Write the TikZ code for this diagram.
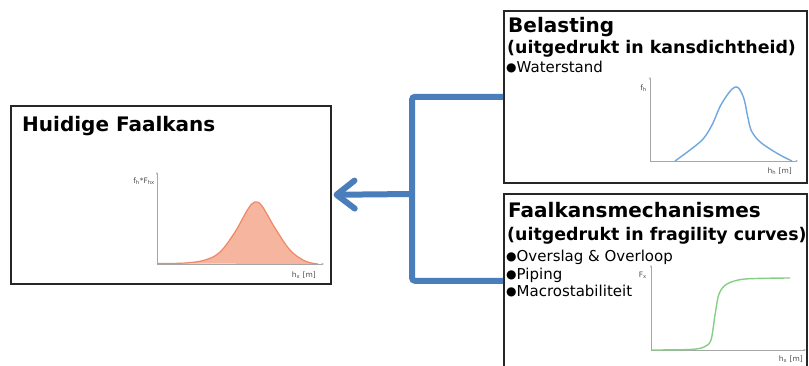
\documentclass[tikz,border=0pt]{standalone}
\usepackage{fontspec}
\setmainfont{DejaVu Sans}
\usetikzlibrary{arrows.meta}
\definecolor{arrowblue}{HTML}{4A7EBB}
\definecolor{curveblue}{HTML}{6FA8DC}
\definecolor{curvegreen}{HTML}{86CF86}
\definecolor{salmonline}{HTML}{EE8866}
\definecolor{salmonfill}{HTML}{F6B59E}
\definecolor{boxline}{HTML}{262626}
\definecolor{axisgray}{HTML}{A6A6A6}
\newcommand{\bul}{{\fontsize{12}{12}\selectfont\raisebox{1pt}{●}}}
\tikzset{
  box/.style={draw=boxline, line width=1.6pt, rectangle, inner sep=0pt},
  title/.style={font=\bfseries\fontsize{20}{22}\selectfont, inner sep=0pt, anchor=base west},
  subtitle/.style={font=\bfseries\fontsize{17.4}{20}\selectfont, inner sep=0pt, anchor=base west},
  bullet/.style={font=\fontsize{15}{17}\selectfont, inner sep=0pt, anchor=base west},
  axis/.style={draw=axisgray, line width=0.8pt, -{Stealth[length=2.5pt,width=2pt]}},
  small/.style={font=\fontsize{7.5}{8}\selectfont, text=black!70, inner sep=0pt},
  conn/.style={draw=arrowblue, line width=6pt, rounded corners=3pt},
}
\begin{document}
\begin{tikzpicture}[x=1pt,y=-1pt]
\useasboundingbox (0,0) rectangle (809,365);
\clip (0,0) rectangle (809,365);
\fill[white] (0,0) rectangle (809,365);
% boxes
\node[box, minimum width=320pt, minimum height=178pt, anchor=north west] (cur) at (10,105) {};
\node[box, minimum width=303pt, minimum height=172pt, anchor=north west] (bel) at (503,10) {};
\node[box, minimum width=303pt, minimum height=174pt, anchor=north west] (mech) at (503,193) {};
% titles
\node[title] (curT) at (22,131.5) {Huidige Faalkans};
\node[title] (belT1) at (508,32.5) {Belasting};
\node[subtitle] (belT2) at (507,53) {(uitgedrukt in kansdichtheid)};
\node[bullet] (belB1) at (506,72) {\bul Waterstand};
\node[title] (mechT1) at (508,217.5) {Faalkansmechanismes};
\node[subtitle] (mechT2) at (507,240) {(uitgedrukt in fragility curves)};
\node[bullet] (mechB1) at (506,261.5) {\bul Overslag \& Overloop};
\node[bullet] (mechB2) at (506,279) {\bul Piping};
\node[bullet] (mechB3) at (506,296.5) {\bul Macrostabiliteit};
% connector
\coordinate (j) at (412,194);
\draw[conn] (bel.west) -| (j) |- (mech.west);
\draw[draw=arrowblue, line width=6pt, line cap=round, -{Straight Barb[length=18pt,width=28pt,round]}, shorten >=2pt] (j) -- (cur.east);
% chart: current
\coordinate (c0) at (157,264);
\coordinate (cy) at (157,172);
\coordinate (cx) at (324,264);
\fill[salmonfill] plot[smooth, tension=0.6] coordinates {(158,263.5) (185,263) (205,260) (220,252) (235,232) (248,209) (255,202) (262,206) (275,228) (290,250) (305,261) (318,264)} -- cycle;
\draw[salmonline, line width=1.2pt] plot[smooth, tension=0.6] coordinates {(158,263.5) (185,263) (205,260) (220,252) (235,232) (248,209) (255,202) (262,206) (275,228) (290,250) (305,261) (318,264)};
\draw[axis] (c0) -- (cy);
\draw[axis] (c0) -- (cx);
\node[small, anchor=east] (cyl) at (155,181) {f\textsubscript{h}*F\textsubscript{hx}};
\node[small, anchor=base east] (cxl) at (316,277) {h\textsubscript{x} [m]};
% chart: belasting
\coordinate (b0) at (650,161);
\coordinate (by) at (650,77);
\coordinate (bx) at (798,161);
\draw[axis] (b0) -- (by);
\draw[axis] (b0) -- (bx);
\draw[curveblue, line width=1.4pt] plot[smooth, tension=0.6] coordinates {(675,161) (690,150) (703,139) (712,125) (722,103) (735,87) (743,96) (748,118) (751,130) (758,140) (767,147) (780,155) (792,161)};
\node[small, anchor=east] (byl) at (647,88) {f\textsubscript{h}};
\node[small, anchor=base east] (bxl) at (792,173) {h\textsubscript{h} [m]};
% chart: mechanisms
\coordinate (m0) at (651,350);
\coordinate (my) at (651,265);
\coordinate (mx) at (806,350);
\draw[axis] (m0) -- (my);
\draw[axis] (m0) -- (mx);
\draw[curvegreen, line width=1.4pt] plot[smooth, tension=0.5] coordinates {(652,350) (690,349.5) (704,347) (711,340) (715,315) (719,294) (727,284) (745,279) (790,278)};
\node[small, anchor=east] (myl) at (647,275) {F\textsubscript{x}};
\node[small, anchor=base east] (mxl) at (803,361) {h\textsubscript{x} [m]};
\end{tikzpicture}
\end{document}
